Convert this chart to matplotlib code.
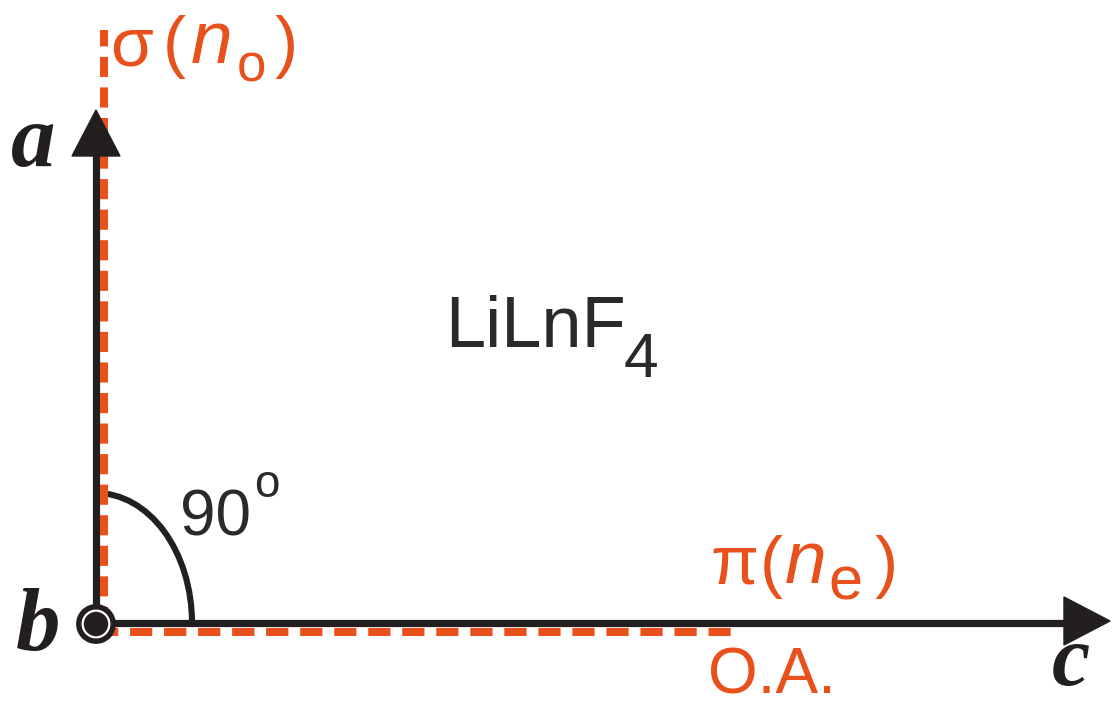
import matplotlib
matplotlib.use("Agg")
import matplotlib.pyplot as plt
from matplotlib.patches import Arc, Polygon, Circle

plt.rcParams['lines.scale_dashes'] = False

# ---- content ----
axis_labels = ["a", "b", "c"]
crystal_label = ["LiLnF", "4"]
angle_label = ["90", "o"]
sigma_label = ["σ", "(", "n", "o", ")"]
pi_label = ["π", "(", "n", "e", ")"]
oa_label = "O.A."

BLACK = "#231f20"
ORANGE = "#e8501c"

# ---- geometry (pixel space) ----
W, H = 1113, 704
ox, oy = 96, 623          # origin
a_tip = 110               # top of a-axis arrow
c_tip = 1110              # right end of c-axis arrow
head_len, head_half = 46, 24
or_dx, or_dy = 8, 9       # offset of orange dashed lines
sig_top = 30
oa_end = 735

fig = plt.figure(figsize=(W / 100, H / 100), dpi=100)
ax = fig.add_axes([0, 0, 1, 1])
ax.set_xlim(0, W)
ax.set_ylim(H, 0)
ax.axis("off")

# orange dashed optical directions
ax.plot([ox + or_dx, ox + or_dx], [oy + 4, sig_top], color=ORANGE, lw=5.8,
        dashes=(14.5, 7.5), dash_capstyle="butt", zorder=3)
ax.plot([ox, oa_end], [oy + or_dy, oy + or_dy], color=ORANGE, lw=5.8,
        dashes=(16, 8.5), dash_capstyle="butt", zorder=3)

# black axes
ax.plot([ox, ox], [oy, a_tip + head_len - 2], color=BLACK, lw=5.2,
        solid_capstyle="butt", zorder=2)
ax.plot([ox, c_tip - head_len + 2], [oy, oy], color=BLACK, lw=5.2,
        solid_capstyle="butt", zorder=2)
ax.add_patch(Polygon([[ox, a_tip], [ox - head_half, a_tip + head_len],
                      [ox + head_half, a_tip + head_len]],
                     closed=True, color=BLACK, zorder=4))
ax.add_patch(Polygon([[c_tip, oy - 2], [c_tip - head_len, oy - 2 - head_half],
                      [c_tip - head_len, oy - 2 + head_half]],
                     closed=True, color=BLACK, zorder=4))

# angle arc
ax.add_patch(Arc((ox, oy), 2 * 96, 2 * 130, theta1=270, theta2=360,
                 color=BLACK, lw=4.4, zorder=2))

# b-axis symbol (pointing out of page)
ax.add_patch(Circle((ox, oy + 1), 17.2, facecolor="white", edgecolor=BLACK,
                    lw=3.9, zorder=5))
ax.add_patch(Circle((ox, oy + 1), 11.5, color=BLACK, zorder=6))

# axis letters
serif = dict(family="Liberation Serif", style="italic", weight="bold",
             color=BLACK, va="baseline", ha="left")
ax.text(11, 166, axis_labels[0], fontsize=64, **serif)
ax.text(16, 650, axis_labels[1], fontsize=64, **serif)
ax.text(1052, 685, axis_labels[2], fontsize=62, **serif)

sans = dict(family="Liberation Sans", va="baseline", ha="left")

# LiLnF4
ax.text(445, 347, crystal_label[0], fontsize=52, color="#2a2a2a", **sans)
ax.text(624, 377, crystal_label[1], fontsize=45, color="#2a2a2a", **sans)

# 90°
ax.text(180, 535, angle_label[0], fontsize=46, color="#2a2a2a", **sans)
ax.text(254, 497, angle_label[1], fontsize=33, color="#2a2a2a", **sans)

# sigma (n_o)
ax.text(110, 65, sigma_label[0], fontsize=50, color=ORANGE, **sans)
ax.text(163, 65, sigma_label[1], fontsize=50, color=ORANGE, **sans)
ax.text(191, 63, sigma_label[2], fontsize=54, color=ORANGE, style="italic", **sans)
ax.text(237, 82, sigma_label[3], fontsize=38, color=ORANGE, **sans)
ax.text(275, 65, sigma_label[4], fontsize=50, color=ORANGE, **sans)

# pi (n_e)
ax.text(710, 583, pi_label[0], fontsize=50, color=ORANGE, **sans)
ax.text(760, 585, pi_label[1], fontsize=50, color=ORANGE, **sans)
ax.text(785, 583, pi_label[2], fontsize=54, color=ORANGE, style="italic", **sans)
ax.text(828, 600, pi_label[3], fontsize=44, color=ORANGE, **sans)
ax.text(875, 585, pi_label[4], fontsize=50, color=ORANGE, **sans)

# O.A.
ax.text(708, 693, oa_label, fontsize=46, color=ORANGE, **sans)

fig.savefig("out.png", dpi=100)
